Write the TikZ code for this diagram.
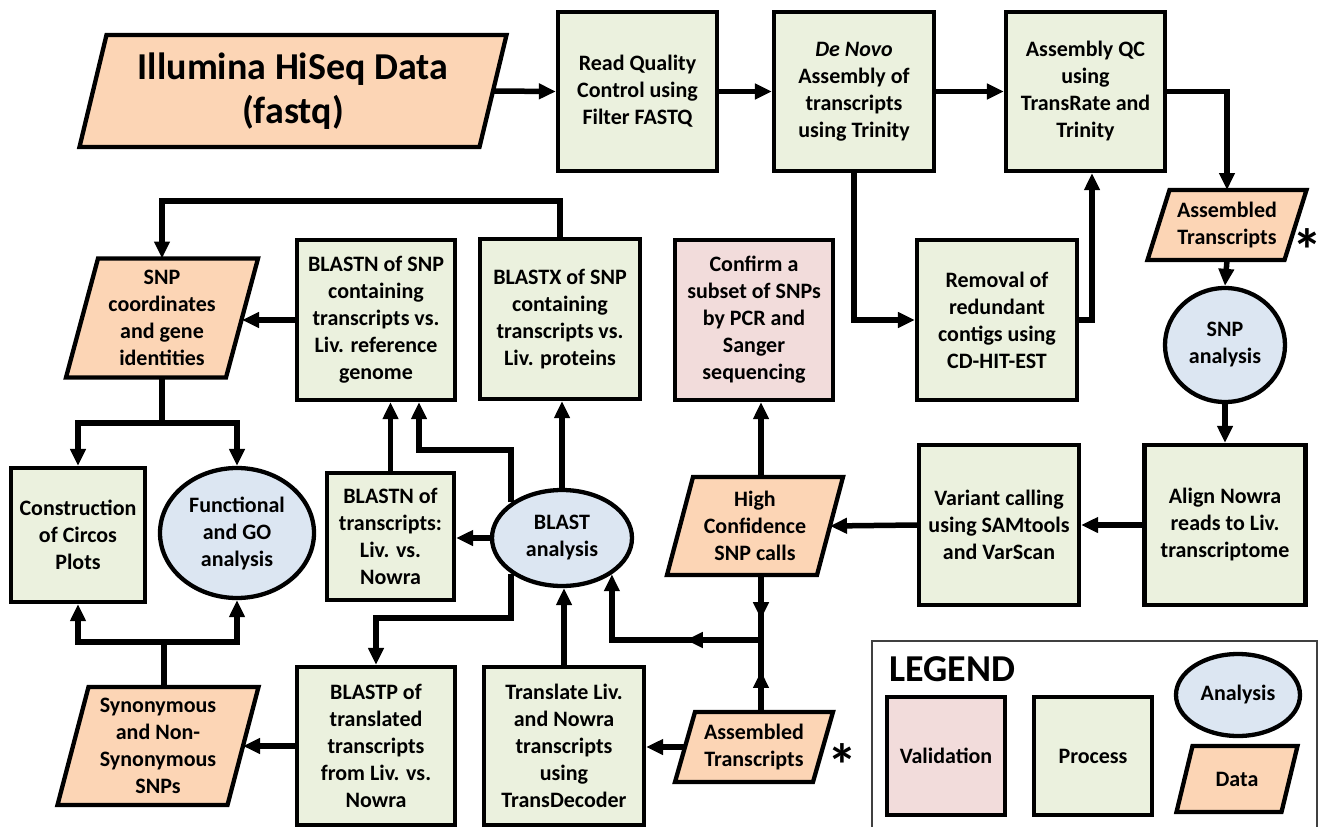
\documentclass[tikz,border=0pt]{standalone}
\usepackage{fontspec}
\setmainfont{Carlito}
\usetikzlibrary{arrows.meta,shapes.geometric,decorations.markings}
\definecolor{procfill}{HTML}{EBF1DE}
\definecolor{datafill}{HTML}{FCD5B5}
\definecolor{anfill}{HTML}{DCE6F2}
\definecolor{valfill}{HTML}{F2DCDB}
\pgfdeclarelayer{bg}
\pgfsetlayers{bg,main}
\newcommand\dpara[2]{\path[datashape] ([xshift=#2]#1.north west) -- ([xshift=#2]#1.north east) -- ([xshift=-#2]#1.south east) -- ([xshift=-#2]#1.south west) -- cycle;}
\tikzset{
  boxtext/.style={font=\bfseries\fontsize{22}{27}\selectfont, align=center},
  proc/.style={boxtext, draw, line width=4.3pt, fill=procfill, inner sep=1pt},
  valid/.style={boxtext, draw, line width=4.3pt, fill=valfill, inner sep=1pt},
  anal/.style={boxtext, ellipse, draw, line width=4.3pt, fill=anfill, inner sep=0pt},
  datan/.style={boxtext, inner sep=0pt, outer sep=0pt},
  datashape/.style={draw, line width=4.3pt, fill=datafill, line join=miter},
  conn/.style={line width=5.5pt, -{Triangle[length=17pt,width=15pt]}},
  plain/.style={line width=5.5pt},
  midarrow/.style={postaction={decorate}, decoration={markings, mark=at position #1 with {\arrow{Triangle[length=17pt,width=15pt]}}}},
  starn/.style={font=\bfseries\fontsize{60}{60}\selectfont, inner sep=0pt}
}
\begin{document}
\begin{tikzpicture}[x=1pt,y=-1pt]
\useasboundingbox (0,0) rectangle (1320,827);
% data nodes (shapes drawn on background layer)
\node[datan, font=\bfseries\fontsize{38}{44}\selectfont, minimum width=400pt, minimum height=112pt] (illum) at (293,91) {Illumina HiSeq Data\\(fastq)};
\node[datan, minimum width=137pt, minimum height=70pt] (asm1) at (1227,225) {Assembled\\Transcripts};
\node[datan, minimum width=160pt, minimum height=119pt] (snpcoord) at (162,318) {SNP\\coordinates\\and gene\\identities};
\node[datan, minimum width=150pt, minimum height=98pt] (highconf) at (755,526) {High\\Confidence\\SNP calls};
\node[datan, minimum width=138pt, minimum height=70pt] (asm2) at (754,747) {Assembled\\Transcripts};
\node[datan, minimum width=170pt, minimum height=118pt] (syn) at (158,746) {Synonymous\\and Non-\\Synonymous\\SNPs};
\node[datan, minimum width=105pt, minimum height=66pt] (legdata) at (1237,779) {Data};
\begin{pgfonlayer}{bg}
\fill[white] (0,0) rectangle (1320,827);
\dpara{illum}{13.5pt}
\dpara{asm1}{11pt}
\dpara{snpcoord}{16pt}
\dpara{highconf}{13pt}
\dpara{asm2}{10pt}
\dpara{syn}{15.5pt}
\dpara{legdata}{8pt}
\end{pgfonlayer}
% process nodes
\node[proc, minimum width=159pt, minimum height=159pt] (readqc) at (637.5,91.5) {Read Quality\\Control using\\Filter FASTQ};
\node[proc, minimum width=160pt, minimum height=159pt] (denovo) at (854,91.5) {\textit{De Novo}\\Assembly of\\transcripts\\using Trinity};
\node[proc, minimum width=159pt, minimum height=159pt] (asmqc) at (1085.5,91.5) {Assembly QC\\using\\TransRate and\\Trinity};
\node[anal, minimum width=120pt, minimum height=114pt] (snpan) at (1225,345) {SNP\\analysis};
\node[proc, minimum width=160pt, minimum height=160pt] (removal) at (997,320) {Removal of\\redundant\\contigs using\\CD-HIT-EST};
\node[valid, minimum width=158pt, minimum height=160pt] (confirm) at (754,320) {Confirm a\\subset of SNPs\\by PCR and\\Sanger\\sequencing};
\node[proc, minimum width=160pt, minimum height=160pt] (blastx) at (560,319) {BLASTX of SNP\\containing\\transcripts vs.\\Liv. proteins};
\node[proc, minimum width=158pt, minimum height=160pt] (blastnsnp) at (376,320) {BLASTN of SNP\\containing\\transcripts vs.\\Liv. reference\\genome};
\node[proc, minimum width=161pt, minimum height=160pt] (align) at (1225,525) {Align Nowra\\reads to Liv.\\transcriptome};
\node[proc, minimum width=160pt, minimum height=160pt] (variant) at (999,525) {Variant calling\\using SAMtools\\and VarScan};
\node[proc, minimum width=134pt, minimum height=134pt] (constr) at (78,535) {Construction\\of Circos\\Plots};
\node[anal, minimum width=154pt, minimum height=130pt] (func) at (237,533) {Functional\\and GO\\analysis};
\node[proc, minimum width=127pt, minimum height=127pt] (blastnt) at (390.5,536.5) {BLASTN of\\transcripts:\\Liv. vs.\\Nowra};
\node[anal, minimum width=140pt, minimum height=96pt] (blast) at (562,538) {BLAST\\analysis};
\node[proc, minimum width=158pt, minimum height=158pt] (blastp) at (376,746) {BLASTP of\\translated\\transcripts\\from Liv. vs.\\Nowra};
\node[proc, minimum width=160pt, minimum height=158pt] (transl) at (564,746) {Translate Liv.\\and Nowra\\transcripts\\using\\TransDecoder};
% asterisks
\node[starn] (star1) at (1307,250) {*};
\node[starn] (star2) at (842,765) {*};
% legend
\draw[line width=1.5pt, draw=black!75] (872,641) rectangle (1317,840);
\node[font=\bfseries\fontsize{38}{38}\selectfont, anchor=west, inner sep=0pt] (legtitle) at (889,669) {LEGEND};
\node[valid, minimum width=118pt, minimum height=118pt] (legval) at (946,756) {Validation};
\node[proc, minimum width=118pt, minimum height=118pt] (legproc) at (1093,756) {Process};
\node[anal, minimum width=124pt, minimum height=82pt] (legan) at (1238,695) {Analysis};
% coordinates
\coordinate (jx) at (761,640);
\coordinate (k1) at (419,450);
\coordinate (k2) at (376,618);
\coordinate (k3) at (164,642);
\coordinate (k4) at (162,423);
\coordinate (k5) at (162,201);
% connectors
\draw[conn] (illum.east) -- (readqc.west);
\draw[conn] (readqc.east) -- (denovo.west);
\draw[conn] (denovo.east) -- (asmqc.west);
\draw[conn] (asmqc.east) -| (asm1.north);
\draw[conn] (asm1.south) -- (snpan.north);
\draw[conn] (snpan.south) -- (align.north);
\draw[conn] (align.west) -- (variant.east);
\draw[conn] (variant.west) -- (highconf.east);
\draw[conn] (denovo.south) |- (removal.west);
\draw[conn] (removal.east) -| ([xshift=6.5pt]asmqc.south);
\draw[conn] (highconf.north -| jx) -- (confirm.south -| jx);
\draw[plain, midarrow=0.68] (highconf.south -| jx) -- (jx);
\draw[plain, midarrow=0.57] (asm2.north -| jx) -- (jx);
\draw[conn, midarrow=0.35] (jx) -| (blast.-36);
\draw[conn] (asm2.west) -- (asm2.west -| transl.east);
\draw[conn] (transl.north) -- (transl.north |- blast.south);
\draw[conn] (blast.north) -- (blast.north |- blastx.south);
\draw[conn] (blast.west) -- (blast.west -| blastnt.east);
\draw[conn] (blast.145) |- (k1) -- (k1 |- blastnsnp.south);
\draw[conn] (blast.215) |- (k2) -- (blastp.north);
\draw[conn] (blastnt.north) -- (blastnt.north |- blastnsnp.south);
\draw[conn] (blastnsnp.west) -- (blastnsnp.west -| snpcoord.east);
\draw[conn] (blastx.north) |- (k5) -- (snpcoord.north);
\draw[plain] (snpcoord.south) -- (k4);
\draw[conn] (k4) -| (constr.north);
\draw[conn] (k4) -| (func.north);
\draw[conn] (blastp.west) -- (blastp.west -| syn.east);
\draw[plain] (syn.north -| k3) -- (k3);
\draw[conn] (k3) -| (constr.south);
\draw[conn] (k3) -| (func.south);
\end{tikzpicture}
\end{document}
